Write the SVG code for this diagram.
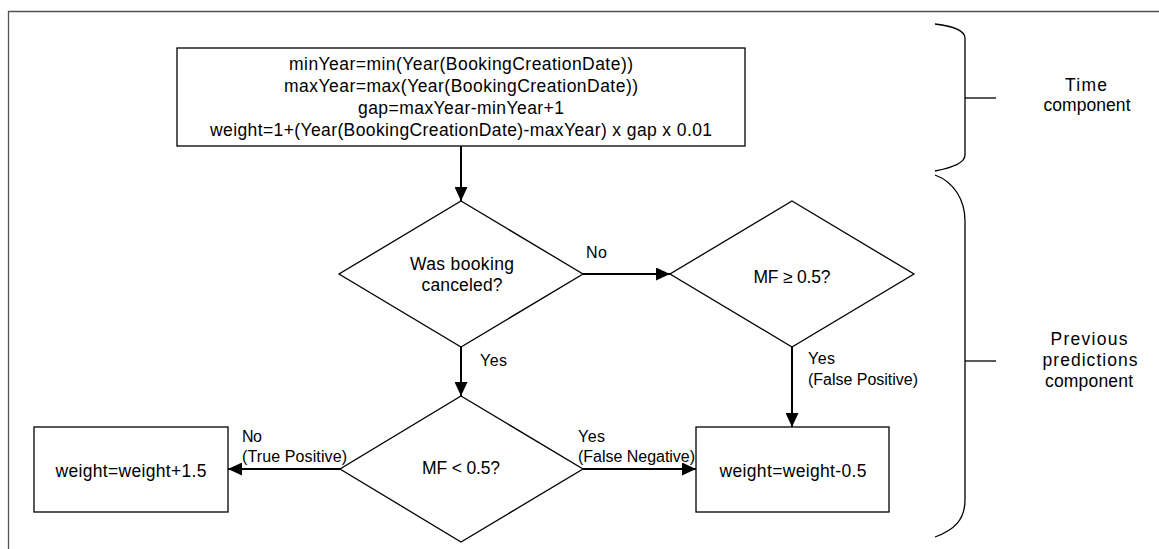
<svg xmlns="http://www.w3.org/2000/svg" width="1159" height="549" viewBox="0 0 1159 549">
<defs>
<style>
.shape{fill:#fff;stroke:#000;stroke-width:1.3}
.conn{fill:none;stroke:#000;stroke-width:2}
.brace{fill:none;stroke:#000;stroke-width:1.3}
.t{font-family:"Liberation Sans",Arial,sans-serif;font-size:17.5px;fill:#000;text-anchor:middle}
.lbl{font-family:"Liberation Sans",Arial,sans-serif;font-size:16px;fill:#000;text-anchor:start}
</style>
<marker id="arr" markerWidth="14" markerHeight="13" refX="14" refY="6.5" orient="auto" markerUnits="userSpaceOnUse">
<path d="M0,0 L14,6.5 L0,13 z" fill="#000"/>
</marker>
</defs>
<rect width="1159" height="549" fill="#fff"/>
<path d="M8.5,549 V11.5 H1159" fill="none" stroke="#505050" stroke-width="1.3"/>

<g id="connectors">
<path class="conn" d="M461,146 V201" marker-end="url(#arr)"/>
<path class="conn" d="M583,274 H670" marker-end="url(#arr)"/>
<path class="conn" d="M461,347 V396" marker-end="url(#arr)"/>
<path class="conn" d="M792,347 V427" marker-end="url(#arr)"/>
<path class="conn" d="M340,469 H228" marker-end="url(#arr)"/>
<path class="conn" d="M583,469 H696" marker-end="url(#arr)"/>
<text class="lbl" x="586" y="258" textLength="21">No</text>
<text class="lbl" x="480" y="366" textLength="27">Yes</text>
<text class="lbl" x="808" y="364" textLength="27">Yes</text>
<text class="lbl" x="808" y="385" textLength="110">(False Positive)</text>
<text class="lbl" x="242" y="442" textLength="20">No</text>
<text class="lbl" x="242" y="462" textLength="105">(True Positive)</text>
<text class="lbl" x="578" y="442" textLength="27">Yes</text>
<text class="lbl" x="578" y="462" textLength="117">(False Negative)</text>
</g>

<g id="init">
<rect class="shape" x="177" y="48" width="568" height="98"/>
<text class="t" x="461" y="70" textLength="344">minYear=min(Year(BookingCreationDate))</text>
<text class="t" x="461" y="92" textLength="354">maxYear=max(Year(BookingCreationDate))</text>
<text class="t" x="461" y="114" textLength="206">gap=maxYear-minYear+1</text>
<text class="t" x="461" y="136" textLength="502">weight=1+(Year(BookingCreationDate)-maxYear) x gap x 0.01</text>
</g>

<g id="canceled">
<polygon class="shape" points="461,201 583,274 461,347 339,274"/>
<text class="t" x="462" y="270" textLength="104">Was booking</text>
<text class="t" x="462" y="291" textLength="81">canceled?</text>
</g>

<g id="mfge">
<polygon class="shape" points="792,201 914,274 792,347 670,274"/>
<text class="t" x="792" y="283" textLength="77">MF ≥ 0.5?</text>
</g>

<g id="mflt">
<polygon class="shape" points="461,396 583,469 461,542 340,469"/>
<text class="t" x="461" y="474" textLength="78">MF &lt; 0.5?</text>
</g>

<g id="plus">
<rect class="shape" x="34" y="427" width="194" height="85"/>
<text class="t" x="131" y="477" textLength="151">weight=weight+1.5</text>
</g>

<g id="minus">
<rect class="shape" x="696" y="427" width="193" height="85"/>
<text class="t" x="793" y="477" textLength="147">weight=weight-0.5</text>
</g>

<g id="time-brace">
<path class="brace" d="M935,24 C951,26 965,30 965,38 V155 C965,163 951,168 935,171"/>
<path class="brace" d="M965,98 H996"/>
<text class="t" x="1086" y="91" textLength="42">Time</text>
<text class="t" x="1087" y="111" textLength="87">component</text>
</g>

<g id="pred-brace">
<path class="brace" d="M935,175 C954,182 965,200 965,221 V500 C965,520 954,530 935,537"/>
<path class="brace" d="M965,361 H996"/>
<text class="t" x="1089" y="345" textLength="77">Previous</text>
<text class="t" x="1090" y="366" textLength="95">predictions</text>
<text class="t" x="1089" y="387" textLength="88">component</text>
</g>
</svg>
